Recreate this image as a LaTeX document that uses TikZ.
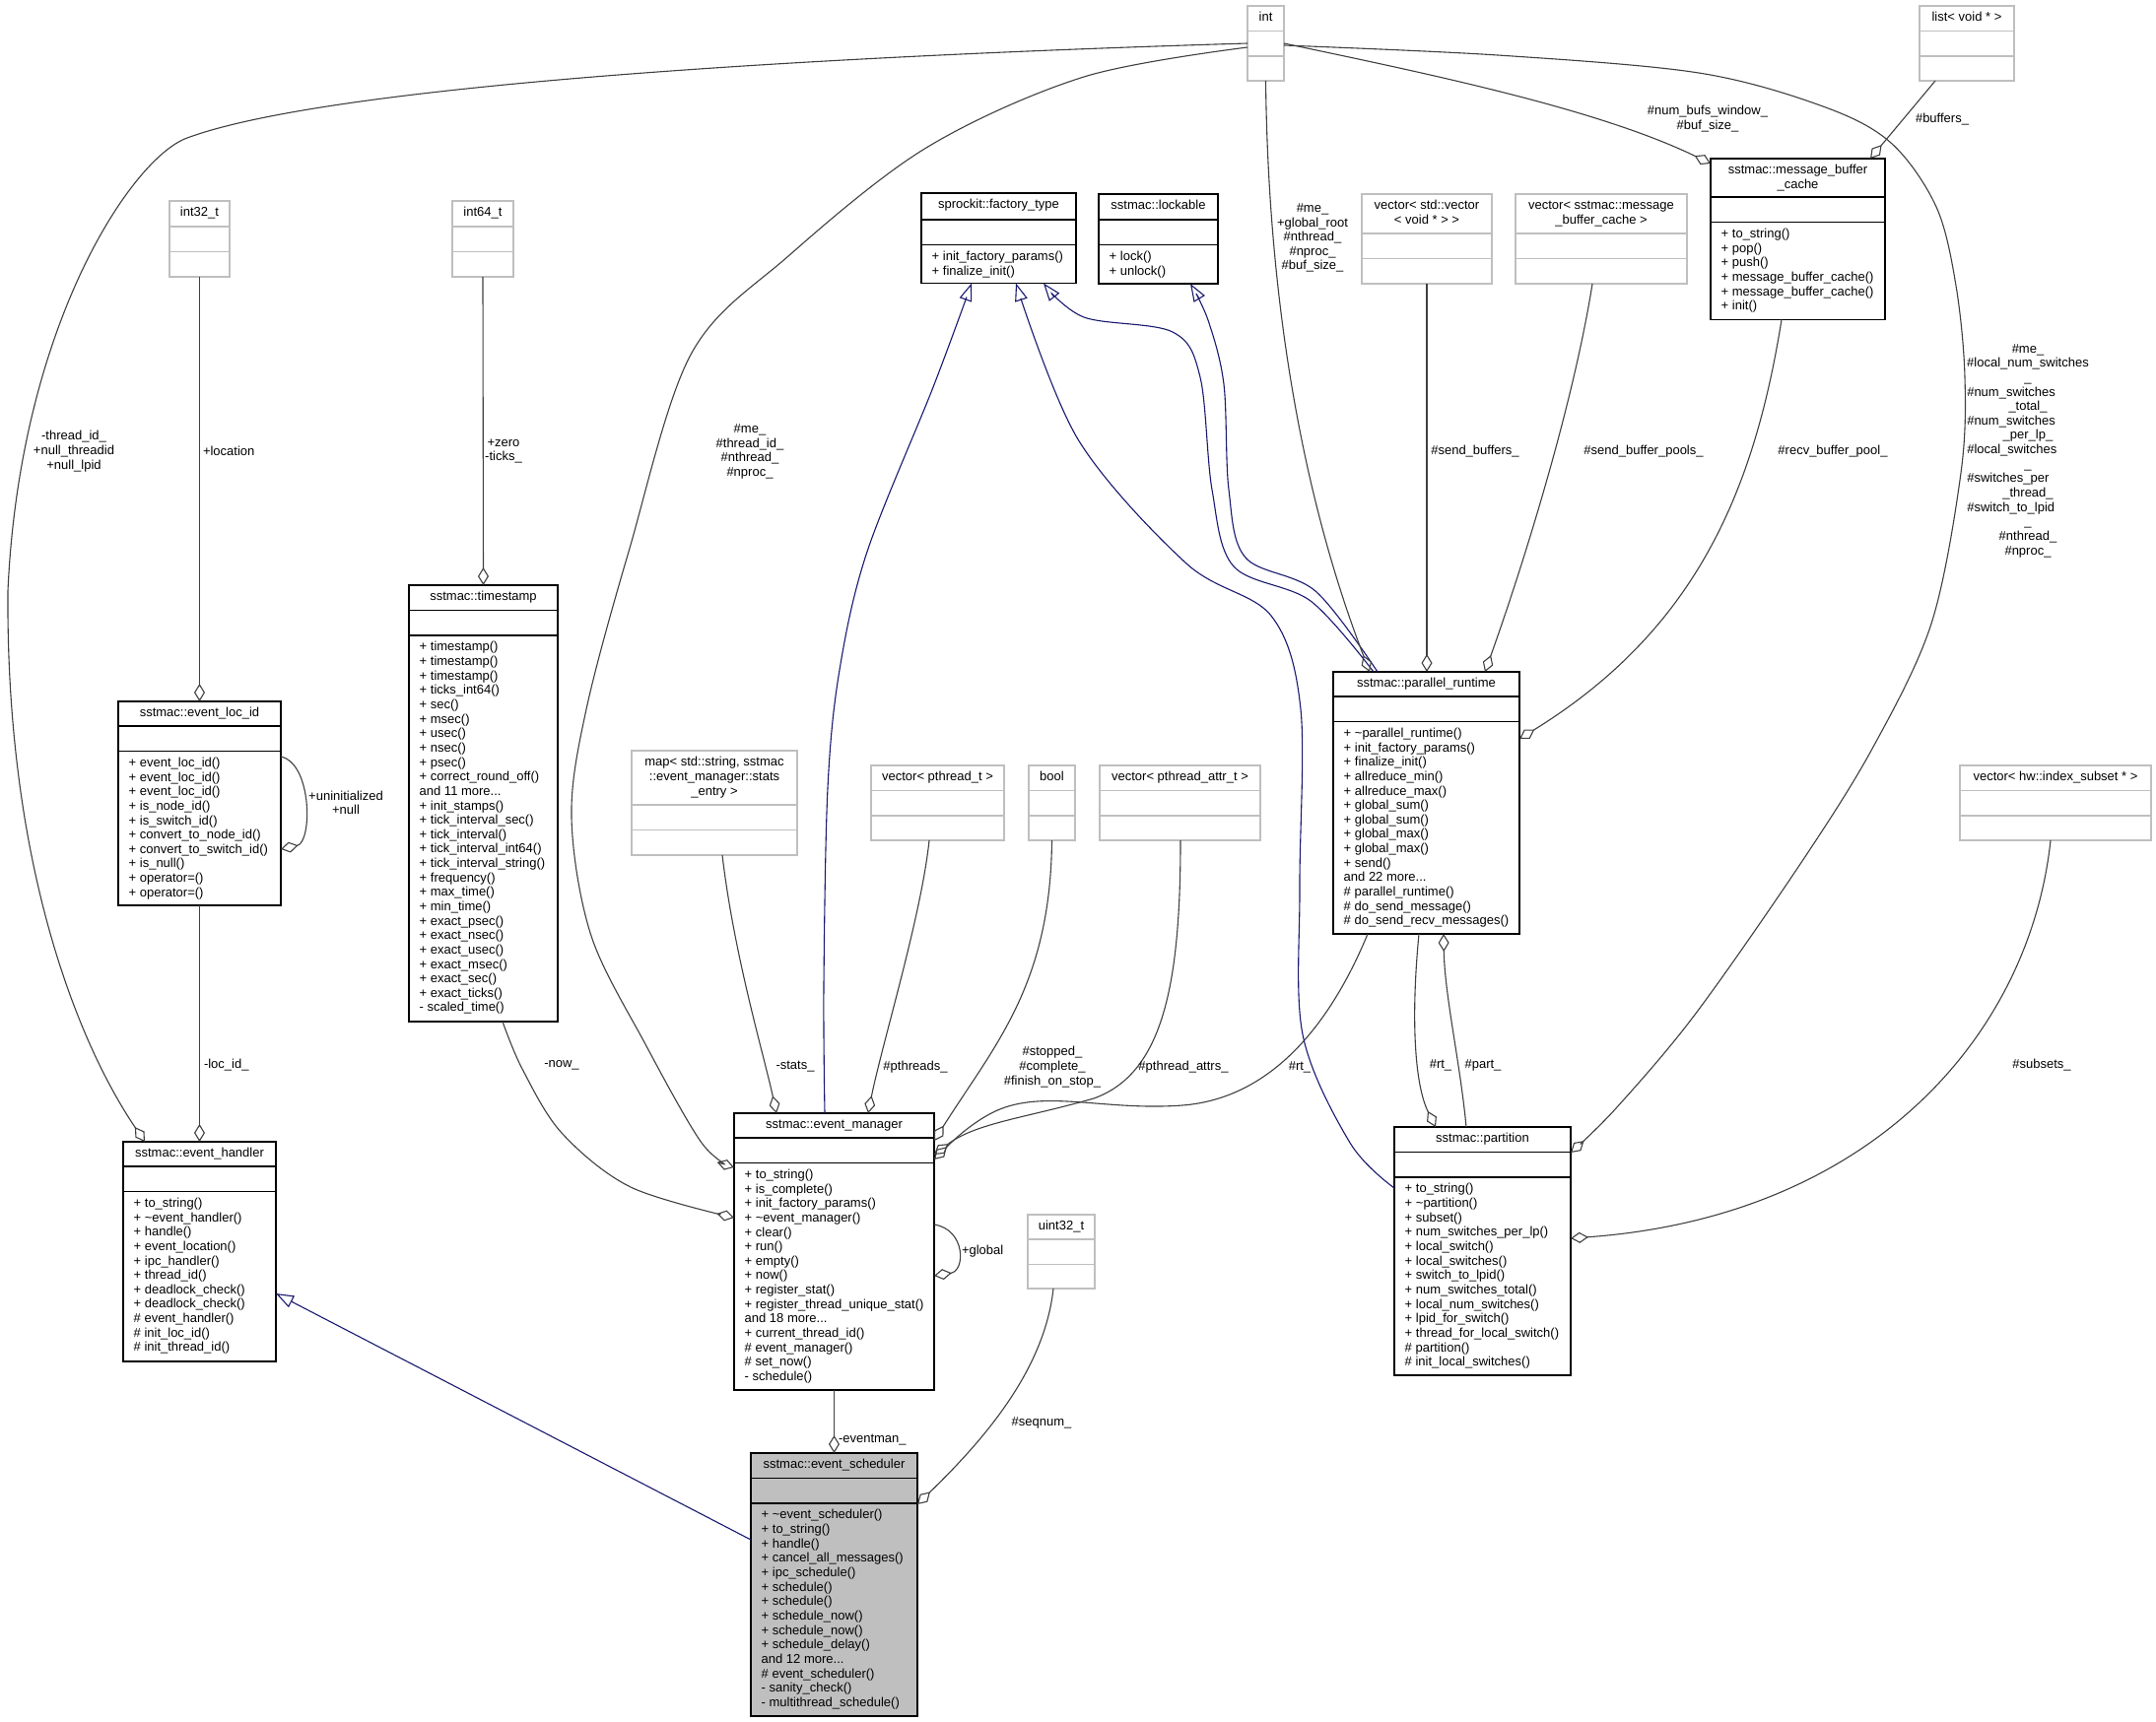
\documentclass[tikz,border=0pt]{standalone}
\usepackage{fontspec}
\setmainfont{Liberation Sans}
\usetikzlibrary{arrows.meta,calc}
\definecolor{edgegray}{HTML}{404040}
\definecolor{boxgray}{HTML}{BFBFBF}
\definecolor{inhblue}{HTML}{191970}
\newlength\stackw
% #1 name, #2 style, #3 x1, #4 y1, #5 x2, #6 y2, #7 header bottom, #8 title, #9 members
\newcommand\umlcls[9]{%
  \node[#2, anchor=north west, minimum width={(#5-#3)*1pt}, minimum height={(#6-#4)*1pt}] (#1) at (#3,#4) {};
  \draw[#2, fill=none] (#3,#7) -- (#5,#7);
  \draw[#2, fill=none] (#3,#7+25.5) -- (#5,#7+25.5);
  \node[anchor=north, align=center] (#1-t) at ({(#3+#5)/2},#4+5.7) {\strut #8};
  \node[anchor=north west, align=left] (#1-m) at (#3+10.7,#7+31.2) {\strut #9};
}
\newcommand\lft[1]{\makebox[123.5pt][l]{#1}}
\begin{document}
\begin{tikzpicture}[x=1pt,y=-1pt,
  every node/.style={font=\fontsize{13}{14.64}\selectfont, inner sep=0pt, outer sep=0pt},
  blackbox/.style={draw=black, line width=1.5pt, fill=white},
  graybox/.style={draw=boxgray, line width=1.5pt, fill=white},
  focusbox/.style={draw=black, line width=1.5pt, fill=boxgray},
  agg/.style={draw=edgegray, line width=1.1pt, -{Diamond[open, length=18pt, width=11pt, line width=1.1pt]}},
  inh/.style={draw=inhblue, line width=1.1pt, -{Triangle[open, length=18pt, width=13pt, line width=1.1pt]}},
  lbl/.style={align=center}]
\fill[white] (0,0) rectangle (2188,1748);
\useasboundingbox (0,0) rectangle (2188,1748);

% ---------------- classes ----------------
\umlcls{int}{graybox}{1266}{6}{1303}{82}{31.5}{int}{}
\umlcls{listv}{graybox}{1948}{6}{2044}{82}{31.5}{list< void * >}{}
\umlcls{i32}{graybox}{172}{204}{233}{281}{230}{int32\_t}{}
\umlcls{i64}{graybox}{459}{204}{521}{281}{230}{int64\_t}{}
\umlcls{ft}{blackbox}{935}{196}{1092}{287.5}{223}{sprockit::factory\_type}{+ init\_factory\_params()\\+ finalize\_init()}
\umlcls{lock}{blackbox}{1115}{197}{1236}{288}{223}{sstmac::lockable}{+ lock()\\+ unlock()}
\umlcls{vsv}{graybox}{1382}{197}{1514}{288}{237}{vector< std::vector\\< void * > >}{}
\umlcls{vmb}{graybox}{1538}{197}{1712}{288}{237}{vector< sstmac::message\\\_buffer\_cache >}{}
\umlcls{mbc}{blackbox}{1736}{161}{1913}{324.5}{200}{sstmac::message\_buffer\\\_cache}{+ to\_string()\\+ pop()\\+ push()\\+ message\_buffer\_cache()\\+ message\_buffer\_cache()\\+ init()}
\umlcls{ts}{blackbox}{415}{594}{566}{1037}{619.5}{sstmac::timestamp}{+ timestamp()\\+ timestamp()\\+ timestamp()\\+ ticks\_int64()\\+ sec()\\+ msec()\\+ usec()\\+ nsec()\\+ psec()\\+ correct\_round\_off()\\and 11 more...\\+ init\_stamps()\\+ tick\_interval\_sec()\\+ tick\_interval()\\+ tick\_interval\_int64()\\+ tick\_interval\_string()\\+ frequency()\\+ max\_time()\\+ min\_time()\\+ exact\_psec()\\+ exact\_nsec()\\+ exact\_usec()\\+ exact\_msec()\\+ exact\_sec()\\+ exact\_ticks()\\- scaled\_time()}
\umlcls{elid}{blackbox}{120}{712}{285}{919}{737}{sstmac::event\_loc\_id}{+ event\_loc\_id()\\+ event\_loc\_id()\\+ event\_loc\_id()\\+ is\_node\_id()\\+ is\_switch\_id()\\+ convert\_to\_node\_id()\\+ convert\_to\_switch\_id()\\+ is\_null()\\+ operator=()\\+ operator=()}
\umlcls{map}{graybox}{641}{762}{809}{868}{817}{map< std::string, sstmac\\::event\_manager::stats\\\_entry >}{}
\umlcls{vpt}{graybox}{884}{777}{1019}{853}{802.5}{vector< pthread\_t >}{}
\umlcls{bool}{graybox}{1044}{777}{1091}{853}{802.5}{bool}{}
\umlcls{vpa}{graybox}{1116}{777}{1279}{853}{802.5}{vector< pthread\_attr\_t >}{}
\umlcls{vhw}{graybox}{1989}{777}{2183}{853}{802.5}{vector< hw::index\_subset * >}{}
\umlcls{pr}{blackbox}{1353}{682}{1542}{948}{707}{sstmac::parallel\_runtime}{+ \textasciitilde parallel\_runtime()\\+ init\_factory\_params()\\+ finalize\_init()\\+ allreduce\_min()\\+ allreduce\_max()\\+ global\_sum()\\+ global\_sum()\\+ global\_max()\\+ global\_max()\\+ send()\\and 22 more...\\\# parallel\_runtime()\\\# do\_send\_message()\\\# do\_send\_recv\_messages()}
\umlcls{eh}{blackbox}{125}{1159}{280}{1382}{1184}{sstmac::event\_handler}{+ to\_string()\\+ \textasciitilde event\_handler()\\+ handle()\\+ event\_location()\\+ ipc\_handler()\\+ thread\_id()\\+ deadlock\_check()\\+ deadlock\_check()\\\# event\_handler()\\\# init\_loc\_id()\\\# init\_thread\_id()}
\umlcls{em}{blackbox}{745}{1130}{948}{1411}{1155}{sstmac::event\_manager}{+ to\_string()\\+ is\_complete()\\+ init\_factory\_params()\\+ \textasciitilde event\_manager()\\+ clear()\\+ run()\\+ empty()\\+ now()\\+ register\_stat()\\+ register\_thread\_unique\_stat()\\and 18 more...\\+ current\_thread\_id()\\\# event\_manager()\\\# set\_now()\\- schedule()}
\umlcls{u32}{graybox}{1043}{1233}{1111}{1308}{1258}{uint32\_t}{}
\umlcls{es}{focusbox}{762}{1475}{931}{1742}{1500.5}{sstmac::event\_scheduler}{+ \textasciitilde event\_scheduler()\\+ to\_string()\\+ handle()\\+ cancel\_all\_messages()\\+ ipc\_schedule()\\+ schedule()\\+ schedule()\\+ schedule\_now()\\+ schedule\_now()\\+ schedule\_delay()\\and 12 more...\\\# event\_scheduler()\\- sanity\_check()\\- multithread\_schedule()}
\umlcls{part}{blackbox}{1415}{1144}{1594}{1396}{1169.5}{sstmac::partition}{+ to\_string()\\+ \textasciitilde partition()\\+ subset()\\+ num\_switches\_per\_lp()\\+ local\_switch()\\+ local\_switches()\\+ switch\_to\_lpid()\\+ num\_switches\_total()\\+ local\_num\_switches()\\+ lpid\_for\_switch()\\+ thread\_for\_local\_switch()\\\# partition()\\\# init\_local\_switches()}

% ---------------- connector end points ----------------
\coordinate (int-w1) at ($(int.north west)+(0,38)$);
\coordinate (int-w2) at ($(int.north west)+(0,42)$);
\coordinate (int-e1) at ($(int.north east)+(0,38)$);
\coordinate (int-e2) at ($(int.north east)+(0,40)$);
\coordinate (eh-n1) at ($(eh.north west)+(22,0)$);
\coordinate (eh-e) at ($(eh.north east)+(0,154)$);
\coordinate (elid-e1) at ($(elid.north east)+(0,56)$);
\coordinate (elid-e2) at ($(elid.north east)+(0,150)$);
\coordinate (ts-s) at ($(ts.south west)+(95,0)$);
\coordinate (map-s) at ($(map.south west)+(92,0)$);
\coordinate (vpt-s) at ($(vpt.south west)+(59,0)$);
\coordinate (vpa-s) at ($(vpa.south west)+(82,0)$);
\coordinate (em-n) at ($(em.north west)+(92,0)$);
\coordinate (em-n1) at ($(em.north west)+(43,0)$);
\coordinate (em-n2) at ($(em.north west)+(136,0)$);
\coordinate (em-w1) at ($(em.north west)+(0,55)$);
\coordinate (em-w2) at ($(em.north west)+(0,106)$);
\coordinate (em-e1) at ($(em.north east)+(0,28)$);
\coordinate (em-e2) at ($(em.north east)+(0,42)$);
\coordinate (em-e3) at ($(em.north east)+(0,47)$);
\coordinate (em-e4) at ($(em.north east)+(0,113)$);
\coordinate (em-e5) at ($(em.north east)+(0,165)$);
\coordinate (u32-s) at ($(u32.south west)+(26,0)$);
\coordinate (es-e) at ($(es.north east)+(0,52)$);
\coordinate (es-w) at ($(es.north west)+(0,88)$);
\coordinate (ft-s1) at ($(ft.south west)+(51,0)$);
\coordinate (ft-s2) at ($(ft.south west)+(96,0)$);
\coordinate (ft-s3) at ($(ft.south west)+(124,0)$);
\coordinate (lock-s) at ($(lock.south west)+(93,0)$);
\coordinate (pr-n0) at ($(pr.north west)+(37,0)$);
\coordinate (pr-n1) at ($(pr.north west)+(41,0)$);
\coordinate (pr-n2) at ($(pr.north west)+(45,0)$);
\coordinate (pr-n3) at ($(pr.north west)+(95,0)$);
\coordinate (pr-n4) at ($(pr.north west)+(154,0)$);
\coordinate (pr-e) at ($(pr.north east)+(0,68)$);
\coordinate (pr-sw) at ($(pr.south west)+(35,0)$);
\coordinate (pr-s1) at ($(pr.south west)+(87,0)$);
\coordinate (pr-s2) at ($(pr.south west)+(112,0)$);
\coordinate (vmb-s) at ($(vmb.south west)+(78,0)$);
\coordinate (mbc-s) at ($(mbc.south west)+(72,0)$);
\coordinate (mbc-n) at ($(mbc.north west)+(162,0)$);
\coordinate (mbc-nw) at ($(mbc.north west)+(0,5)$);
\coordinate (listv-s) at ($(listv.south west)+(16,0)$);
\coordinate (part-w) at ($(part.north west)+(0,62)$);
\coordinate (part-n1) at ($(part.north west)+(42,0)$);
\coordinate (part-n2) at ($(part.north west)+(73,0)$);
\coordinate (part-e1) at ($(part.north east)+(0,26)$);
\coordinate (part-e2) at ($(part.north east)+(0,113)$);
\coordinate (vhw-s) at ($(vhw.south west)+(92,0)$);

% ---------------- connectors ----------------
\draw[agg] (int-w1) .. controls (800,58) and (330,88) .. (190,140) .. controls (134,160) and (20,330) .. (8,600) .. controls (6,880) and (80,1060) .. (eh-n1);
\draw[agg] (i32.south) -- (elid.north);
\draw[agg] (i64.south) -- (ts.north);
\draw[agg] (elid-e1) .. controls (317,775) and (317,855) .. (elid-e2);
\draw[agg] (elid.south) -- (elid.south |- eh.north);
\draw[agg] plot[smooth, tension=0.55] coordinates {(int-w2) (1100,78) (940,150) (800,260) (701,360) (638,560) (595,720) (580,830) (600,950) (655,1060) (712,1160) (em-w1)};
\draw[agg] plot[smooth, tension=0.55] coordinates {(ts-s) (530,1085) (570,1150) (640,1205) (em-w2)};
\draw[agg] (map-s) .. controls (745,970) and (775,1070) .. (em-n1);
\draw[agg] (vpt-s) .. controls (935,930) and (895,1060) .. (em-n2);
\draw[agg] (bool.south) .. controls (1066,1000) and (1010,1060) .. (em-e1);
\draw[agg] (vpa-s) .. controls (1198,1000) and (1180,1090) .. (1110,1115) .. controls (1040,1135) and (990,1140) .. (em-e2);
\draw[agg] (pr-sw) .. controls (1350,1040) and (1290,1115) .. (1200,1122) .. controls (1120,1128) and (1060,1105) .. (1010,1128) .. controls (985,1140) and (965,1160) .. (em-e3);
\draw[agg] (em-e4) .. controls (980,1248) and (980,1290) .. (em-e5);
\draw[agg] (em.south) -- (es.north);
\draw[agg] (u32-s) .. controls (1060,1390) and (1000,1460) .. (es-e);
\draw[inh] (es-w) -- (eh-e);
\draw[inh] plot[smooth, tension=0.55] coordinates {(em-n) (836,1000) (840,800) (852,680) (880,560) (947,393) (ft-s1)};
\draw[inh] plot[smooth, tension=0.55] coordinates {(pr-n1) (1330,610) (1252,575) (1230,497) (1218,383) (1190,337) (1100,322) (ft-s3)};
\draw[inh] plot[smooth, tension=0.55] coordinates {(pr-n2) (1335,600) (1264,566) (1247,497) (1242,390) (1226,325) (lock-s)};
\draw[inh] plot[smooth, tension=0.55] coordinates {(part-w) (1370,1160) (1322,1050) (1319,900) (1320,720) (1290,625) (1204,572) (1094,446) (ft-s2)};
\draw[agg] (int.south) .. controls (1287,300) and (1320,500) .. (pr-n0);
\draw[agg] (vsv.south) -- (pr-n3);
\draw[agg] (vmb-s) .. controls (1595,420) and (1540,590) .. (pr-n4);
\draw[agg] (mbc-s) .. controls (1780,500) and (1720,640) .. (pr-e);
\draw[agg] (listv-s) -- (mbc-n);
\draw[agg] (int-e1) .. controls (1450,75) and (1620,110) .. (mbc-nw);
\draw[agg] plot[smooth, tension=0.55] coordinates {(int-e2) (1520,56) (1724,74) (1850,108) (1919,145) (1965,210) (1985,290) (1994,383) (1990,480) (1960,633) (1900,760) (1827,877) (1720,1030) (1640,1125) (part-e1)};
\draw[agg] (pr-s1) .. controls (1432,1030) and (1435,1100) .. (part-n1);
\draw[agg] (part-n2) .. controls (1482,1080) and (1466,1010) .. (pr-s2);
\draw[agg] (vhw-s) .. controls (2060,1050) and (1900,1235) .. (part-e2);

% ---------------- labels ----------------
\node[lbl] (l-thr) at (75,458) {-thread\_id\_\\+null\_threadid\\+null\_lpid};
\node[lbl, anchor=west] (l-loc) at (206,458) {+location};
\node[lbl] (l-zero) at (511,458) {+zero\\-ticks\_};
\node[lbl] (l-me) at (761,458.5) {\#me\_\\\#thread\_id\_\\\#nthread\_\\\#nproc\_};
\node[lbl] (l-uninit) at (351,815) {+uninitialized\\+null};
\node[lbl, anchor=west] (l-locid) at (207,1081) {-loc\_id\_};
\node[lbl] (l-now) at (570,1081) {-now\_};
\node[lbl] (l-stats) at (807,1083) {-stats\_};
\node[lbl] (l-pthr) at (929,1083) {\#pthreads\_};
\node[lbl] (l-stop) at (1068,1083) {\#stopped\_\\\#complete\_\\\#finish\_on\_stop\_};
\node[lbl] (l-pattr) at (1201,1083) {\#pthread\_attrs\_};
\node[lbl] (l-rt) at (1319,1083) {\#rt\_};
\node[lbl, anchor=west] (l-glob) at (976,1270) {+global};
\node[lbl, anchor=west] (l-evm) at (851,1462) {-eventman\_};
\node[lbl] (l-seq) at (1057,1444) {\#seqnum\_};
\node[lbl] (l-intpr) at (1332,241.5) {\#me\_\\+global\_root\\\#nthread\_\\\#nproc\_\\\#buf\_size\_};
\node[lbl] (l-sbuf) at (1497,458) {\#send\_buffers\_};
\node[lbl] (l-spool) at (1668,458) {\#send\_buffer\_pools\_};
\node[lbl] (l-rpool) at (1860,458) {\#recv\_buffer\_pool\_};
\node[lbl] (l-buf) at (1971,121) {\#buffers\_};
\node[lbl] (l-nbw) at (1733,120.5) {\#num\_bufs\_window\_\\\#buf\_size\_};
\node[lbl] (l-pstack) at (2058,457.5) {\#me\_\\\#local\_num\_switches\\\_\\\lft{\#num\_switches}\\\_total\_\\\lft{\#num\_switches}\\\_per\_lp\_\\\lft{\#local\_switches}\\\_\\\lft{\#switches\_per}\\\_thread\_\\\lft{\#switch\_to\_lpid}\\\_\\\#nthread\_\\\#nproc\_};
\node[lbl] (l-rt2) at (1462,1081) {\#rt\_};
\node[lbl] (l-part) at (1505,1081) {\#part\_};
\node[lbl] (l-sub) at (2072,1081) {\#subsets\_};
\end{tikzpicture}
\end{document}
